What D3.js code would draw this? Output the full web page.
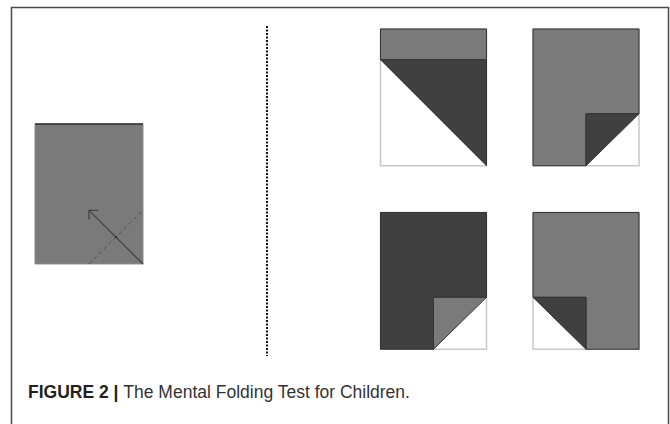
<!DOCTYPE html>
<html lang="en">
<head>
<meta charset="utf-8">
<title>The Mental Folding Test for Children</title>
<script src="https://d3js.org/d3.v7.min.js"></script>
<style>
  body { margin: 0; background: #fff; }
  svg { display: block; font-family: "Liberation Sans", Arial, Helvetica, sans-serif; }
</style>
</head>
<body>
<div id="vis"></div>
<script>
// panel grid (answer options), in page units
var panelCols = [380.5, 533];
var panelRows = [29, 212.5];
var panelW = 106;
var unitH = 1.29;          // paper height / width

// shapes in unit coordinates (paper width = 1, height = unitH)
// tone: "mid" = grey side, "dark" = dark side
var answerShapes = [
  [ {tone: "mid",  pts: [[0,0],[1,0],[1,0.29],[0,0.29]]},
    {tone: "dark", pts: [[0,0.29],[1,0.29],[1,1.29]]} ],
  [ {tone: "mid",  pts: [[0,0],[1,0],[1,0.8],[0.5,0.8],[0.5,1.29],[0,1.29]]},
    {tone: "dark", pts: [[0.5,0.8],[1,0.8],[0.5,1.29]]} ],
  [ {tone: "dark", pts: [[0,0],[1,0],[1,0.8],[0.5,0.8],[0.5,1.29],[0,1.29]]},
    {tone: "mid",  pts: [[0.5,0.8],[1,0.8],[0.5,1.29]]} ],
  [ {tone: "mid",  pts: [[0,0],[1,0],[1,1.29],[0.5,1.29],[0.5,0.8],[0,0.8]]},
    {tone: "dark", pts: [[0,0.8],[0.5,0.8],[0.5,1.29]]} ]
];

// the sample paper on the left with its fold line and arrow
var sampleBox = {x: 35, y: 124, w: 108};
var foldLine = [[0.5,1.296],[1,0.796]];
var arrowLine = [[1,1.296],[0.5,0.8]];
var arrowHead = [[0.585,0.8],[0.5,0.8],[0.5,0.885]];

var toneColor = {mid: "#7a7a7a", dark: "#404040"};

var W = 670, H = 424;
var svg = d3.select("#vis").append("svg")
    .attr("width", W)
    .attr("height", H);

// outer frame
svg.append("path")
    .attr("d", "M11.5,430 V7.5 H668.5 V430")
    .attr("fill", "none")
    .attr("stroke", "#4a4a4a")
    .attr("stroke-width", 1.5);

// sample paper
var sx = d3.scaleLinear().domain([0, 1]).range([sampleBox.x, sampleBox.x + sampleBox.w]);
var sy = d3.scaleLinear().domain([0, 1]).range([sampleBox.y, sampleBox.y + sampleBox.w]);
var sLine = d3.line().x(function(d) { return sx(d[0]); }).y(function(d) { return sy(d[1]); });

var sample = svg.append("g");
sample.append("path")
    .attr("d", sLine([[0,0],[1,0],[1,1.296],[0,1.296],[0,0]]))
    .attr("fill", toneColor.mid)
    .attr("stroke", "#8a8a8a")
    .attr("stroke-width", 1);
sample.append("path")
    .attr("d", sLine([[0,0],[1,0]]))
    .attr("stroke", "#2e2e2e")
    .attr("stroke-width", 1.5);
sample.append("path")
    .attr("d", sLine(foldLine))
    .attr("fill", "none")
    .attr("stroke", "#555")
    .attr("stroke-width", 1)
    .attr("stroke-dasharray", "4,3");
sample.append("path")
    .attr("d", sLine(arrowLine))
    .attr("fill", "none")
    .attr("stroke", "#444")
    .attr("stroke-width", 1.3);
sample.append("path")
    .attr("d", sLine(arrowHead))
    .attr("fill", "none")
    .attr("stroke", "#444")
    .attr("stroke-width", 1.3);
sample.append("circle")
    .attr("cx", sx(0.75)).attr("cy", sy(1.046)).attr("r", 1.2)
    .attr("fill", "#333");

// dotted divider
svg.append("line")
    .attr("x1", 267).attr("x2", 267)
    .attr("y1", 26).attr("y2", 356)
    .attr("stroke", "#111")
    .attr("stroke-width", 2)
    .attr("stroke-dasharray", "2,1.5");

// answer panels
answerShapes.forEach(function(shapes, i) {
    var px = panelCols[i % 2], py = panelRows[Math.floor(i / 2)];
    var x = d3.scaleLinear().domain([0, 1]).range([px, px + panelW]);
    var y = d3.scaleLinear().domain([0, 1]).range([py, py + panelW]);
    var line = d3.line().x(function(d) { return x(d[0]); }).y(function(d) { return y(d[1]); }).curve(d3.curveLinearClosed);
    var g = svg.append("g");
    g.append("rect")
        .attr("x", x(0)).attr("y", y(0))
        .attr("width", x(1) - x(0)).attr("height", y(unitH) - y(0))
        .attr("fill", "#fff")
        .attr("stroke", "#c8c8c8")
        .attr("stroke-width", 1.5);
    g.selectAll("path")
        .data(shapes)
        .enter().append("path")
        .attr("d", function(d) { return line(d.pts); })
        .attr("fill", function(d) { return toneColor[d.tone]; })
        .attr("stroke", "#333")
        .attr("stroke-width", 1)
        .attr("stroke-linejoin", "miter");
});

// caption
var cap = svg.append("text")
    .attr("x", 28)
    .attr("y", 398)
    .attr("font-size", "17.5px")
    .attr("fill", "#231f20");
cap.append("tspan").attr("font-weight", "bold").text("FIGURE 2 | ");
cap.append("tspan").attr("fill", "#333").text("The Mental Folding Test for Children.");
</script>
</body>
</html>
